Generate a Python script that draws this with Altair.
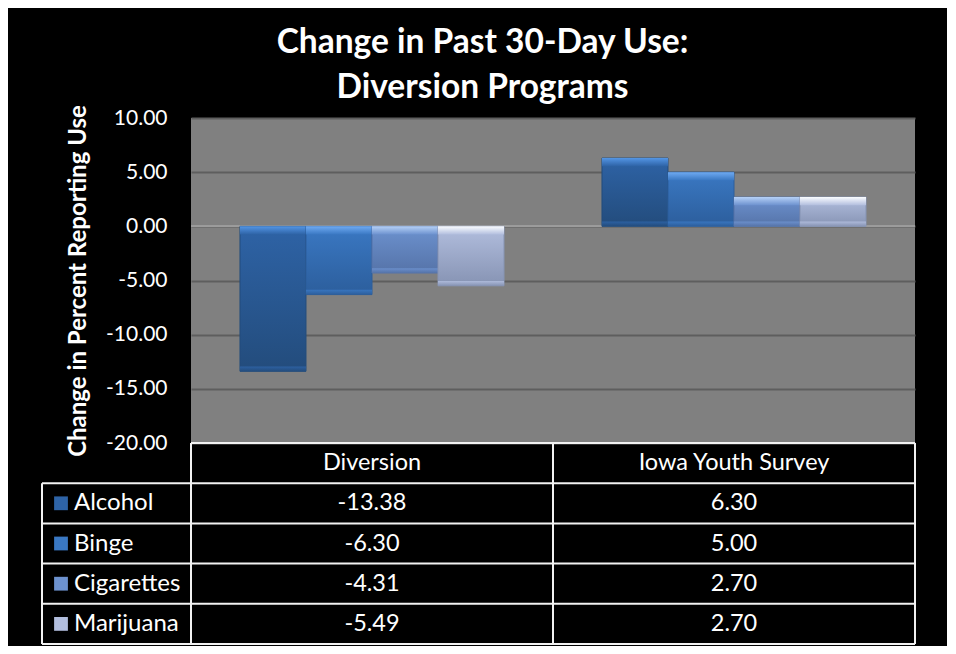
import altair as alt
import pandas as pd

# ---- data ----
groups = ["Diversion", "Iowa Youth Survey"]
series = ["Alcohol", "Binge", "Cigarettes", "Marijuana"]
diversion = [-13.38, -6.30, -4.31, -5.49]
iowa = [6.30, 5.00, 2.70, 2.70]
y_ticks = [-20, -15, -10, -5, 0, 5, 10]
title_lines = ["Change in Past 30-Day Use:", "Diversion Programs"]
y_title = "Change in Percent Reporting Use"

# ---- styles ----
FONT = "Lato"
face = ["#2E63A6", "#3A78C3", "#6D92CF", "#B2BEDE"]
light = ["#5395E4", "#6FAAF2", "#B5D0F6", "#FAFCFF"]
dark = ["#234C7C", "#2C5E9C", "#5573A8", "#8693B3"]

rows = []
for g, vals in zip(groups, [diversion, iowa]):
    for s, v in zip(series, vals):
        rows.append({"group": g, "series": s, "value": v})
df = pd.DataFrame(rows)

trows = ["header"] + series
trecs = []
for g in groups:
    trecs.append({"row": "header", "group": g, "label": g})
for g, vals in zip(groups, [diversion, iowa]):
    for s, v in zip(series, vals):
        trecs.append({"row": s, "group": g, "label": f"{v:.2f}"})
tdf = pd.DataFrame(trecs)
rowdf = pd.DataFrame({"row": trows})
groupdf = pd.DataFrame({"group": groups})
serdf = pd.DataFrame({"series": series})

W, H, TH = 724, 325, 201
LBL = 149  # width of the label column in the table

x_scale = alt.Scale(domain=groups, paddingInner=0, paddingOuter=0)
x_enc = alt.X("group:N", scale=x_scale, axis=None)
xoff = alt.XOffset("series:N", scale=alt.Scale(domain=series, paddingInner=0, paddingOuter=0.742))
y_scale = alt.Scale(domain=[-20, 10], nice=False, zero=False)
y_axis = alt.Axis(values=y_ticks, labelExpr="replace(format(datum.value, '.2f'), '\u2212', '-')",
                  title=y_title, titleFont=FONT,
                  titleFontSize=24, titleFontWeight="bold", titleColor="white",
                  titlePadding=15, labelFont=FONT, labelFontSize=21, labelColor="white",
                  labelPadding=24, ticks=False, tickSize=0, domain=False,
                  grid=True, gridColor="#5E5E5E", gridWidth=2)

base = alt.Chart(df)
zero_rule = alt.Chart(df).mark_rule(color="#9C9C9C", strokeWidth=1.5).encode(y=alt.datum(0, scale=y_scale))

layers = [zero_rule]
for i, s in enumerate(series):
    sub = base.transform_filter(alt.datum.series == s)
    grad = alt.LinearGradient(gradient="linear", x1=0, y1=0, x2=0, y2=1,
                              stops=[alt.GradientStop(offset=0, color=face[i]),
                                     alt.GradientStop(offset=1, color=dark[i])])
    bar = sub.mark_bar(fill=grad, stroke=dark[i], strokeWidth=1).encode(
        x=x_enc, xOffset=xoff, y=alt.Y("value:Q", scale=y_scale, axis=y_axis), y2=alt.datum(0))
    hgrad = alt.LinearGradient(gradient="linear", x1=0, y1=0, x2=0, y2=1,
                               stops=[alt.GradientStop(offset=0, color=light[i]),
                                      alt.GradientStop(offset=1, color=face[i])])
    hl = sub.transform_calculate(
        top="max(datum.value, 0)", hb="max(datum.value, 0) - 0.75"
    ).mark_bar(fill=hgrad, strokeWidth=0).encode(
        x=x_enc, xOffset=xoff, y=alt.Y("top:Q", scale=y_scale, axis=y_axis), y2="hb:Q")
    bgrad = alt.LinearGradient(gradient="linear", x1=0, y1=0, x2=0, y2=1,
                               stops=[alt.GradientStop(offset=0, color=face[i]),
                                      alt.GradientStop(offset=1, color=dark[i])])
    lo = sub.transform_calculate(
        bot="min(datum.value, 0)", bt="min(datum.value, 0) + 0.45"
    ).mark_bar(fill=bgrad, strokeWidth=0, opacity=0.9).encode(
        x=x_enc, xOffset=xoff, y=alt.Y("bt:Q", scale=y_scale, axis=y_axis), y2="bot:Q")
    layers += [bar, hl, lo]

top = alt.layer(*layers).properties(width=W, height=H, view=alt.ViewBackground(fill="#808080", stroke=None))

# ---- data table ----
row_scale = alt.Scale(domain=trows, paddingInner=0, paddingOuter=0)
y_row = alt.Y("row:N", scale=row_scale, axis=None)
TFS = 23.5

texts = alt.Chart(tdf).mark_text(color="white", font=FONT, fontSize=TFS, baseline="middle").encode(
    x=x_enc, y=y_row, text="label:N")

row_labels = alt.Chart(serdf).transform_calculate(row="datum.series").mark_text(
    color="white", font=FONT, fontSize=24, baseline="middle", align="left"
).encode(x=alt.value(-117), y=y_row, text="series:N")

squares = alt.Chart(serdf).transform_calculate(row="datum.series").mark_square(size=190, opacity=1).encode(
    x=alt.value(-130), y=y_row,
    color=alt.Color("series:N", scale=alt.Scale(domain=series, range=face), legend=None))

LINE = "#F2F2F2"
h_header = alt.Chart(rowdf).transform_filter(alt.datum.row == "header").mark_rule(color=LINE, strokeWidth=2).encode(
    y=alt.Y("row:N", scale=row_scale, axis=None, bandPosition=0), x=alt.value(0), x2=alt.value(W))
h_rows = alt.Chart(rowdf).transform_filter(alt.datum.row != "header").mark_rule(color=LINE, strokeWidth=2).encode(
    y=alt.Y("row:N", scale=row_scale, axis=None, bandPosition=0), x=alt.value(-LBL), x2=alt.value(W))
h_bottom = alt.Chart(rowdf).transform_filter(alt.datum.row == series[-1]).mark_rule(color=LINE, strokeWidth=2).encode(
    y=alt.Y("row:N", scale=row_scale, axis=None, bandPosition=1), x=alt.value(-LBL), x2=alt.value(W))
v_groups = alt.Chart(groupdf).mark_rule(color=LINE, strokeWidth=2).encode(
    x=alt.X("group:N", scale=x_scale, axis=None, bandPosition=0), y=alt.value(0), y2=alt.value(TH))
v_right = alt.Chart(groupdf).transform_filter(alt.datum.group == groups[-1]).mark_rule(color=LINE, strokeWidth=2).encode(
    x=alt.X("group:N", scale=x_scale, axis=None, bandPosition=1), y=alt.value(0), y2=alt.value(TH))
v_label = alt.Chart(rowdf).transform_filter(alt.datum.row == series[0]).mark_rule(color=LINE, strokeWidth=2).encode(
    x=alt.value(-LBL), y=alt.Y("row:N", scale=row_scale, axis=None, bandPosition=0), y2=alt.value(TH))

table = alt.layer(h_header, h_rows, h_bottom, v_groups, v_right, v_label, squares, row_labels, texts).properties(
    width=W, height=TH, view=alt.ViewBackground(fill=None, stroke=None))

chart = alt.vconcat(top, table, spacing=0, bounds="flush").properties(
    title=alt.TitleParams(text=title_lines, color="white", font=FONT, fontSize=33.5, fontWeight="bold",
                          lineHeight=45, anchor="middle", offset=-1, dx=4),
    padding={"left": 33, "top": 18, "right": 31, "bottom": 1},
    background="black",
).configure_view(stroke=None)

chart.save("out.html", embed_options={"renderer": "svg", "actions": False})
